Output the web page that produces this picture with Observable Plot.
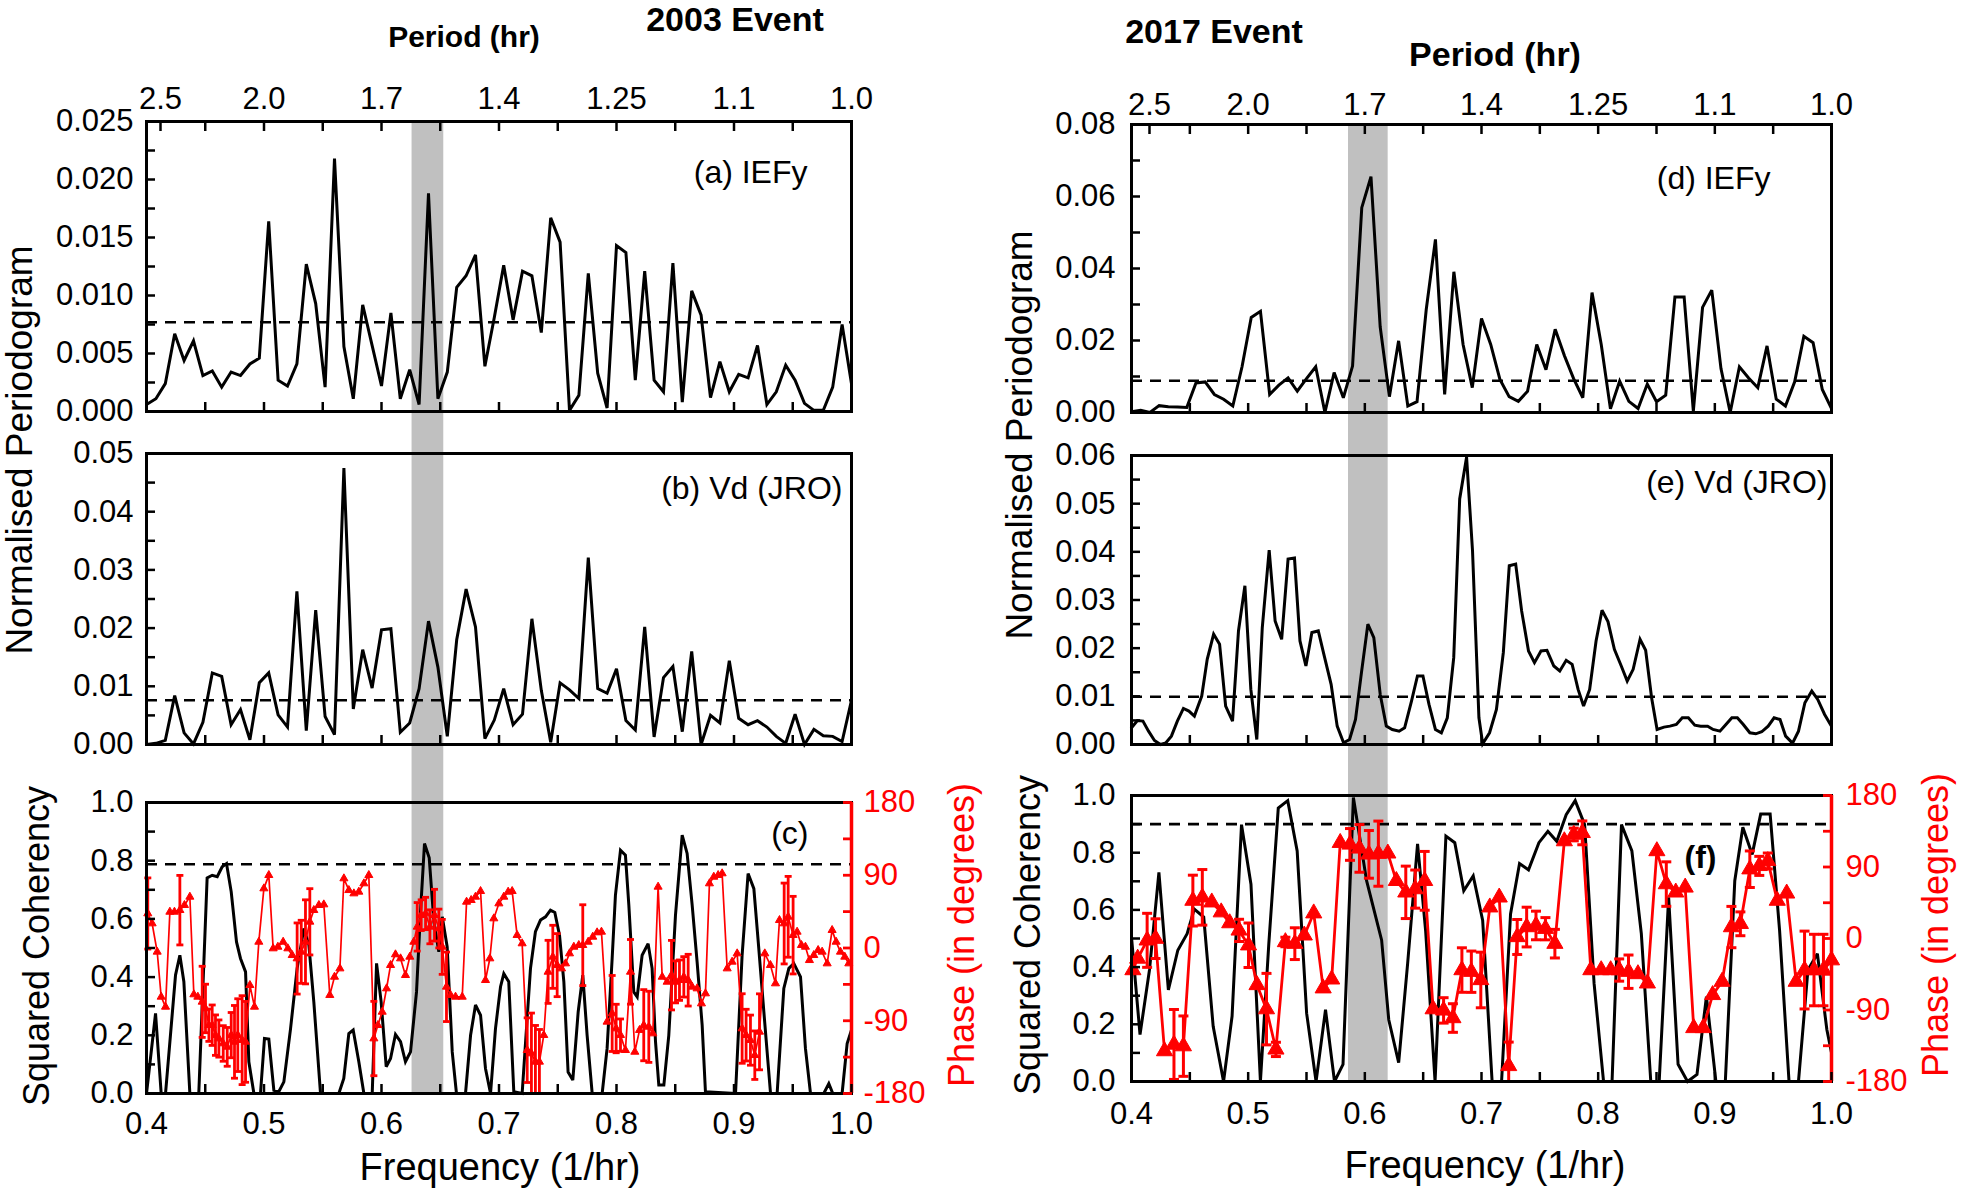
<!DOCTYPE html>
<html><head><meta charset="utf-8">
<script src="https://cdn.jsdelivr.net/npm/d3@7"></script>
<script src="https://cdn.jsdelivr.net/npm/@observablehq/plot@0.6"></script>
<style>
body{margin:0;background:#fff;}
#root{position:relative;width:1961px;height:1195px;overflow:hidden;background:#fff;font-family:"Liberation Sans",Arial,sans-serif;}
#root svg{position:absolute;max-width:none;}
.lbl{position:absolute;white-space:nowrap;line-height:1;transform:translate(-50%,-50%);}
.rot{transform:translate(-50%,-50%) rotate(-90deg);}
</style></head><body><div id="root"></div>
<script>
// ---------------- DATA ----------------
const xTickVals = [0.4,0.45,0.5,0.55,0.6,0.65,0.7,0.75,0.8,0.85,0.9,0.95,1.0];
const xMajor = [0.4,0.5,0.6,0.7,0.8,0.9,1.0];
const freqLabels = ["0.4","0.5","0.6","0.7","0.8","0.9","1.0"];
const periodLabels = ["2.5","2.0","1.7","1.4","1.25","1.1","1.0"];

const yTicksA = [0,0.0025,0.005,0.0075,0.01,0.0125,0.015,0.0175,0.02,0.0225,0.025];
const yMajorA = [0,0.005,0.01,0.015,0.02,0.025];
const yLabelsA = ["0.000","0.005","0.010","0.015","0.020","0.025"];
const yTicksB = [0,0.005,0.01,0.015,0.02,0.025,0.03,0.035,0.04,0.045,0.05];
const yMajorB = [0,0.01,0.02,0.03,0.04,0.05];
const yLabelsB = ["0.00","0.01","0.02","0.03","0.04","0.05"];
const yTicksCoh = [0,0.1,0.2,0.3,0.4,0.5,0.6,0.7,0.8,0.9,1.0];
const yMajorCoh = [0,0.2,0.4,0.6,0.8,1.0];
const yLabelsCoh = ["0.0","0.2","0.4","0.6","0.8","1.0"];
const yTicksD = [0,0.01,0.02,0.03,0.04,0.05,0.06,0.07,0.08];
const yMajorD = [0,0.02,0.04,0.06,0.08];
const yLabelsD = ["0.00","0.02","0.04","0.06","0.08"];
const yTicksE = [0,0.005,0.01,0.015,0.02,0.025,0.03,0.035,0.04,0.045,0.05,0.055,0.06];
const yMajorE = [0,0.01,0.02,0.03,0.04,0.05,0.06];
const yLabelsE = ["0.00","0.01","0.02","0.03","0.04","0.05","0.06"];
const phaseTicks = [-180,-135,-90,-45,0,45,90,135,180];
const phaseMajor = [-180,-90,0,90,180];
const phaseLabels = ["-180","-90","0","90","180"];

// significance levels (dashed lines) and highlighted bands
const sigA = 0.0077, sigB = 0.0076, sigC = 0.788, sigD = 0.0088, sigE = 0.0099, sigF = 0.9;
const band2003 = [0.626, 0.653];
const band2017 = [0.586, 0.620];

// (a) IEFy 2003 : sampled every 0.008 /hr from 0.4
const gridA = {start: 0.4, step: 0.008};
const valsA = [0.0006,0.0011,0.0024,0.0067,0.0044,0.0061,0.0031,0.0035,0.0021,0.0034,
 0.0031,0.0041,0.0046,0.0164,0.0027,0.0022,0.0041,0.0127,0.0093,0.0021,
 0.0218,0.0056,0.0011,0.0092,0.0057,0.0022,0.0085,0.0011,0.0036,0.0006,
 0.0188,0.0011,0.0034,0.0107,0.0117,0.0135,0.0039,0.0081,0.0126,0.0079,
 0.0121,0.0117,0.0068,0.0167,0.0146,0.0001,0.0014,0.0119,0.0033,0.0003,
 0.0143,0.0137,0.0027,0.0121,0.0027,0.0017,0.0128,0.0008,0.0104,0.0083,
 0.0012,0.0043,0.0017,0.0032,0.0029,0.0057,0.0006,0.0017,0.0040,0.0027,
 0.0007,0.0001,0.0001,0.0021,0.0075,0.0024];
// (b) Vd (JRO) 2003
const valsB = [0,0.0002,0.0007,0.0084,0.0020,0.0001,0.0038,0.0123,0.0117,0.0034,
 0.0060,0.0008,0.0106,0.0123,0.0051,0.0030,0.0263,0.0024,0.0231,0.0048,
 0.0017,0.0475,0.0061,0.0163,0.0097,0.0197,0.0199,0.0021,0.0037,0.0096,
 0.0212,0.0133,0.0014,0.0180,0.0267,0.0202,0.0010,0.0042,0.0096,0.0034,
 0.0052,0.0216,0.0093,0.0004,0.0106,0.0094,0.0079,0.0321,0.0096,0.0088,
 0.0130,0.0041,0.0025,0.0202,0.0013,0.0115,0.0134,0.0022,0.0160,0.0000,
 0.0050,0.0037,0.0144,0.0045,0.0034,0.0041,0.0030,0.0014,0.0002,0.0052,
 0.0000,0.0026,0.0015,0.0014,0.0005,0.0076];
// (c) squared coherency 2003 [freq, coherency]
const cohC = [[.400,0],[.4077,.275],[.4125,0],[.4162,0],[.4247,.407],[.4284,.475],[.4318,.384],[.4369,0],[.4445,0],[.4516,.741],[.4559,.750],[.4602,.745],[.4644,.779],[.4681,.790],[.4721,.693],[.4766,.521],[.4800,.464],[.4843,.418],[.4871,.109],[.4914,0],[.4970,0],[.5004,.189],[.5041,.187],[.5084,.011],[.5126,.006],[.5169,.040],[.5226,.223],[.5282,.430],[.5339,.567],[.5382,.510],[.5424,.315],[.5481,0],[.5637,0],[.5679,.052],[.5722,.206],[.5759,.218],[.5807,.109],[.5850,0],[.5921,0],[.5958,.447],[.5997,.315],[.6040,.092],[.6077,.120],[.6119,.203],[.6162,.178],[.6204,.109],[.6247,.143],[.6298,.349],[.6332,.624],[.6366,.859],[.6406,.810],[.6446,.590],[.6488,.487],[.6517,.607],[.6559,.504],[.6602,.143],[.6638,0],[.6715,0],[.6758,.200],[.6800,.304],[.6843,.269],[.6885,.086],[.6928,0],[.6970,.223],[.7013,.367],[.7041,.412],[.7083,.384],[.7126,.006],[.7197,0],[.7268,.430],[.7310,.556],[.7353,.596],[.7396,.607],[.7438,.630],[.7475,.622],[.7515,.544],[.7552,.384],[.7588,.074],[.7628,.046],[.7674,.281],[.7713,.407],[.7750,.200],[.7793,0],[.7878,0],[.7920,.155],[.7963,.464],[.7991,.682],[.8034,.836],[.8076,.819],[.8105,.647],[.8147,.349],[.8176,.332],[.8218,.475],[.8269,.515],[.8303,.430],[.8332,.178],[.8360,.029],[.8403,.029],[.8445,.200],[.8502,.613],[.8559,.888],[.8601,.825],[.8644,.647],[.8686,.452],[.8729,.235],[.8757,.006],[.9013,0],[.9069,.475],[.9120,.756],[.9169,.704],[.9211,.498],[.9254,.281],[.9311,0],[.9367,0],[.9424,.361],[.9467,.430],[.9509,.447],[.9566,.401],[.9608,.155],[.9651,0],[.9764,0],[.9807,.034],[.9841,0],[.9920,0],[.9963,.172],[1.000,.218]];
// (c) phase 2003 [freq, phase deg, error half-width deg]
const phaseC = [[.4011,42.7,44],[.4048,30.3,0],[.4091,-4.7,0],[.4125,-60.4,0],[.4162,-72.8,0],[.4199,44.7,0],[.4238,44.7,0],[.4284,46.8,43],[.4323,53.0,0],[.4369,63.3,0],
[.4403,-57.5,0],[.4437,-60.4,0],[.4474,-66.6,44],[.4502,-74.8,30],[.4531,-95.5,20],[.4559,-95.5,25],[.4587,-107.8,25],[.4616,-112.0,23],[.4653,-118.1,22],[.4687,-122.3,24],
[.4721,-107.8,28],[.4749,-116.1,45],[.4777,-107.8,45],[.4814,-114.0,55],[.4843,-116.1,50],[.4880,-46.0,0],[.4919,-72.8,0],[.4956,7.6,0],[.4999,73.6,0],[.5041,90.1,0],
[.5078,-0.6,0],[.5118,1.4,0],[.5163,7.6,0],[.5203,-0.6,0],[.5240,-8.9,0],[.5282,-13.0,44],[.5317,-4.7,39],[.5353,7.6,52],[.5390,32.4,41],[.5424,46.8,0],
[.5467,53.0,0],[.5509,53.8,0],[.5560,-58.3,0],[.5600,-35.7,0],[.5646,-25.4,0],[.5680,86.0,0],[.5722,71.5,0],[.5765,67.4,0],[.5807,69.5,0],[.5850,79.8,0],
[.5892,90.1,0],[.5935,-112.0,46],[.5969,-95.5,0],[.6006,-79.0,0],[.6043,-50.1,0],[.6077,-21.2,0],[.6119,-8.0,0],[.6162,-13.0,0],[.6204,-33.6,0],[.6241,-10.9,0],
[.6275,7.6,0],[.6304,26.2,30],[.6338,40.6,19],[.6375,42.7,20],[.6412,26.2,21],[.6451,40.6,32],[.6488,24.1,24],[.6517,1.4,34],[.6553,-48.0,43],[.6588,-58.3,0],
[.6630,-60.4,0],[.6687,-60.4,0],[.6724,57.1,0],[.6763,59.2,0],[.6800,63.3,0],[.6843,70.3,0],[.6885,-39.8,0],[.6922,-13.0,0],[.6956,36.5,0],[.6999,55.0,0],
[.7041,63.3,0],[.7078,69.5,0],[.7112,70.3,0],[.7154,15.9,0],[.7197,5.6,0],[.7240,-126.4,40],[.7276,-130.5,50],[.7310,-140.8,45],[.7344,-140.8,40],[.7381,-107.8,0],
[.7418,-29.5,39],[.7458,-10.9,39],[.7495,-21.2,39],[.7532,-25.4,0],[.7566,-19.2,0],[.7600,-6.8,0],[.7637,1.4,0],[.7679,3.5,0],[.7713,3.5,50],[.7759,7.6,0],
[.7798,13.8,0],[.7835,19.2,0],[.7872,20.0,0],[.7920,-91.3,0],[.7963,-81.0,47],[.7997,-99.6,30],[.8034,-107.8,20],[.8076,-126.4,0],[.8119,-29.5,40],[.8156,-128.5,0],
[.8196,-101.6,0],[.8232,-95.5,44],[.8275,-97.5,44],[.8309,-105.8,0],[.8354,75.7,0],[.8389,-35.7,0],[.8431,-41.9,0],[.8468,-33.6,43],[.8502,-41.9,26],[.8536,-39.8,25],
[.8573,-35.7,25],[.8610,-39.8,32],[.8644,-48.0,0],[.8686,-50.1,0],[.8723,-68.7,0],[.8757,-56.3,0],[.8791,79.8,0],[.8828,88.0,0],[.8865,90.1,0],[.8899,92.2,0],
[.8942,-25.4,0],[.8984,-17.1,0],[.9027,-6.8,0],[.9069,-99.6,43],[.9103,-107.8,32],[.9140,-114.0,31],[.9177,-132.6,30],[.9217,-103.7,47],[.9262,-6.8,0],[.9310,-21.2,0],
[.9353,-43.9,0],[.9387,34.4,0],[.9427,30.3,50],[.9461,38.6,50],[.9503,15.9,48],[.9537,20.0,0],[.9574,3.5,0],[.9608,1.4,0],[.9642,-15.1,0],[.9679,-8.9,0],
[.9716,-2.7,0],[.9750,-4.7,0],[.9793,-19.2,0],[.9835,22.1,0],[.9869,7.6,0],[.9906,-4.7,0],[.9943,-10.9,0],[.9977,-19.2,0]];

// (d) IEFy 2017 : 77 samples from 0.4 to 1.0
const gridD = {start: 0.4, step: 0.6/76};
const valsD = [0.0002,0.0006,0,0.0019,0.0016,0.0015,0.0014,0.0082,0.0085,0.0050,
 0.0037,0.0018,0.0127,0.0264,0.0281,0.0050,0.0076,0.0096,0.0059,0.0094,
 0.0127,0.0000,0.0111,0.0041,0.0129,0.0569,0.0655,0.0238,0.0044,0.0199,
 0.0018,0.0030,0.0286,0.0481,0.0050,0.0391,0.0189,0.0069,0.0261,0.0189,
 0.0092,0.0044,0.0031,0.0059,0.0189,0.0119,0.0231,0.0158,0.0094,0.0041,
 0.0333,0.0189,0.0010,0.0087,0.0031,0.0011,0.0079,0.0030,0.0048,0.0321,
 0.0321,0.0004,0.0292,0.0340,0.0122,0.0000,0.0127,0.0096,0.0069,0.0185,
 0.0037,0.0018,0.0085,0.0212,0.0194,0.0064,0.0011];
// (e) Vd (JRO) 2017 [freq, value]
const periodE = [[.4000,.00347],[.4051,.00499],[.4098,.00486],[.4146,.00277],[.4197,.00083],[.4248,0],[.4295,.00035],[.4342,.00173],[.4393,.00486],[.4445,.00749],[.4492,.00694],[.4539,.00590],[.4602,.01006],[.4649,.01769],[.4704,.02289],[.4755,.02081],[.4807,.00798],[.4866,.00486],[.4917,.02358],[.4972,.03295],[.5023,.01144],[.5074,.00104],[.5121,.02428],[.5180,.04037],[.5231,.02566],[.5287,.02185],[.5342,.03849],[.5397,.03870],[.5444,.02150],[.5495,.01630],[.5546,.02324],[.5601,.02358],[.5652,.01838],[.5711,.01248],[.5763,.00381],[.5818,.00035],[.5869,.00104],[.5920,.00520],[.5971,.01491],[.6026,.02497],[.6077,.02220],[.6132,.01040],[.6184,.00381],[.6235,.00312],[.6294,.00277],[.6341,.00347],[.6400,.00902],[.6451,.01422],[.6498,.01422],[.6550,.00832],[.6605,.00312],[.6656,.00243],[.6707,.00555],[.6762,.01803],[.6813,.05098],[.6872,.05965],[.6923,.04023],[.6978,.00555],[.7010,.00014],[.7069,.00243],[.7128,.00728],[.7187,.01907],[.7238,.03711],[.7293,.03745],[.7344,.02774],[.7403,.01942],[.7454,.01699],[.7510,.01942],[.7561,.01956],[.7620,.01630],[.7671,.01526],[.7726,.01748],[.7777,.01665],[.7828,.01144],[.7875,.00798],[.7927,.01144],[.7982,.02150],[.8033,.02788],[.8084,.02552],[.8139,.01977],[.8198,.01630],[.8249,.01318],[.8300,.01561],[.8359,.02185],[.8407,.01956],[.8458,.00971],[.8505,.00312],[.8564,.00361],[.8615,.00381],[.8670,.00416],[.8721,.00555],[.8773,.00555],[.8828,.00402],[.8879,.00381],[.8938,.00381],[.8985,.00312],[.9044,.00277],[.9095,.00416],[.9146,.00555],[.9193,.00555],[.9244,.00416],[.9300,.00243],[.9351,.00222],[.9402,.00264],[.9457,.00381],[.9508,.00555],[.9559,.00520],[.9607,.00173],[.9666,.00028],[.9717,.00277],[.9772,.00867],[.9831,.01110],[.9882,.00936],[.9941,.00624],[1.000,.00381]];
// (f) squared coherency 2017 [freq, coherency]
const cohF = [[.400,.505],[.4073,.164],[.4154,.390],[.4235,.731],[.4316,.320],[.4397,.459],[.4477,.517],[.4538,.603],[.4619,.575],[.4700,.193],[.4789,0],[.4862,.228],[.4943,.898],[.5024,.690],[.5105,0],[.5177,.482],[.5258,.956],[.5339,.982],[.5420,.806],[.5501,.239],[.5582,0],[.5663,.251],[.5740,0],[.5813,.060],[.5902,.993],[.6015,.702],[.6144,.494],[.6205,.216],[.6290,.066],[.6367,.413],[.6452,.831],[.6521,.528],[.6602,0],[.6695,.858],[.6771,.835],[.6848,.667],[.6929,.719],[.7010,.563],[.7091,0],[.7172,0],[.7249,.586],[.7326,.762],[.7403,.740],[.7492,.835],[.7569,.875],[.7645,.840],[.7726,.933],[.7803,.982],[.7884,.898],[.7965,.343],[.8046,0],[.8119,0],[.8200,.898],[.8289,.806],[.8370,.517],[.8451,0],[.8523,0],[.8604,.644],[.8685,.060],[.8766,0],[.8847,.025],[.8928,.297],[.9009,0],[.9090,0],[.9171,.702],[.9240,.889],[.9320,.794],[.9393,.935],[.9474,.935],[.9555,.528],[.9636,0],[.9717,0],[.9798,.390],[.9879,.447],[.9960,.182],[1.000,.101]];
// (f) phase 2017 [freq, phase deg, error half-width deg]
const phaseF = [[.4012,-39.7,0],[.4053,-25.2,0],[.4134,-2.3,34],[.4206,-0.2,25],[.4283,-141.7,0],[.4364,-133.4,44],[.4445,-135.5,38],[.4526,47.7,32],[.4607,51.8,35],[.4688,45.6,0],
[.4769,33.1,0],[.4842,19.4,0],[.4922,10.2,14],[.5003,-8.5,28],[.5076,-58.5,0],[.5157,-88.9,45],[.5238,-139.6,9],[.5319,-4.4,6],[.5400,-6.5,20],[.5481,4.0,0],
[.5562,31.8,0],[.5643,-62.6,0],[.5716,-51.4,0],[.5789,120.5,0],[.5873,118.4,20],[.5954,113.4,30],[.6035,105.9,30],[.6116,106.8,41],[.6197,107.2,0],[.6270,72.6,0],
[.6351,58.1,33],[.6432,62.2,24],[.6513,72.6,37],[.6585,-88.9,0],[.6675,-90.5,16],[.6755,-100.1,18],[.6832,-39.7,28],[.6913,-41.8,26],[.6994,-52.2,35],[.7071,39.3,0],
[.7152,51.8,0],[.7233,-160.4,30],[.7306,1.9,22],[.7387,14.4,25],[.7467,16.4,18],[.7548,12.3,14],[.7629,-6.5,18],[.7710,122.6,0],[.7791,130.9,8],[.7864,133.0,15],
[.7937,-39.7,0],[.8026,-39.7,0],[.8107,-39.7,0],[.8180,-39.7,14],[.8260,-41.8,21],[.8341,-44.7,0],[.8422,-56.4,0],[.8503,110.1,0],[.8584,68.5,28],[.8665,58.1,0],
[.8746,64.3,0],[.8819,-112.6,0],[.8900,-112.6,0],[.8981,-71.0,0],[.9062,-54.3,0],[.9142,14.4,26],[.9219,18.5,15],[.9300,87.2,23],[.9381,91.4,12],[.9454,97.6,10],
[.9535,47.7,0],[.9616,56.8,0],[.9697,-54.3,0],[.9769,-39.7,49],[.9850,-39.7,45],[.9931,-39.7,45],[1.000,-27.3,0]];

// ---------------- RENDER ----------------
const RED = "#ff0000";
const FONT = "Liberation Sans, Arial, sans-serif";
const root = document.getElementById("root");
const gridSeries = (g, vals) => vals.map((v, i) => ({f: g.start + i * g.step, v}));
const lookup = (vals, labels) => d => { const i = vals.findIndex(v => Math.abs(v - d) < 1e-9); return i < 0 ? "" : labels[i]; };
const p2y = d3.scaleLinear([-180, 180], [0, 1]);
const capSymbol = {draw(ctx, size) { const w = Math.sqrt(size / Math.PI); ctx.moveTo(-w, 0); ctx.lineTo(w, 0); }};

function makePanel(cfg) {
  const marks = [];
  marks.push(Plot.rect([0], {x1: cfg.band[0], x2: cfg.band[1], y1: cfg.yDomain[0], y2: cfg.yDomain[1],
    fill: "#c0c0c0", insetTop: -(cfg.extTop || 0), insetBottom: -(cfg.extBottom || 0)}));
  marks.push(Plot.ruleY([cfg.sig], {stroke: "black", strokeWidth: 2.6, strokeDasharray: "11,8"}));
  marks.push(...cfg.marks);
  marks.push(Plot.frame({stroke: "black", strokeWidth: 3}));
  if (cfg.phase) marks.push(Plot.ruleX([1.0], {stroke: RED, strokeWidth: 3.5}));
  marks.push(Plot.axisY({anchor: "left", ticks: cfg.yTicks, tickFormat: lookup(cfg.yMajor, cfg.yLabels),
    tickSize: -9, tickPadding: 9 + cfg.yGap, strokeWidth: 2.5, fontSize: 31, label: null}));
  marks.push(Plot.axisX({anchor: "bottom", ticks: xTickVals,
    tickFormat: cfg.bottomLabels ? lookup(xMajor, freqLabels) : () => "",
    tickSize: -9, tickPadding: 9 + (cfg.xGap || 0), strokeWidth: 2.5, fontSize: 31, label: null}));
  if (cfg.topLabels) {
    marks.push(Plot.axisX({anchor: "top", ticks: xTickVals.slice(1), tickFormat: lookup(xMajor, periodLabels),
      tickSize: -9, tickPadding: 9 + cfg.topGap, strokeWidth: 2.5, fontSize: 31, label: null}));
    marks.push(Plot.axisX({anchor: "top", ticks: [0.4], tickFormat: lookup(xMajor, periodLabels),
      tickSize: -9, tickPadding: 9 + cfg.topGap, strokeWidth: 2.5, fontSize: 31, label: null, dx: cfg.firstTopDx}));
  }
  if (cfg.phase) {
    marks.push(Plot.axisY({anchor: "right", ticks: phaseTicks.map(p => p2y(p)),
      tickFormat: y => lookup(phaseMajor, phaseLabels)(Math.round(p2y.invert(y))),
      tickSize: -9, tickPadding: 9 + cfg.phaseGap, strokeWidth: 2.8, fontSize: 31, stroke: RED, fill: RED, label: null}));
  }
  marks.push(Plot.text([cfg.label], {text: d => d, frameAnchor: "top-right", textAnchor: "end", lineAnchor: "middle",
    dx: cfg.labelDx, dy: cfg.labelDy, fontSize: 32, fontWeight: cfg.labelBold ? "bold" : "normal", fill: "black"}));

  const svg = Plot.plot({
    width: cfg.width, height: cfg.height,
    marginLeft: cfg.ml, marginRight: cfg.mr, marginTop: cfg.mt, marginBottom: cfg.mb,
    x: {domain: [0.4, 1.0]},
    y: {domain: cfg.yDomain},
    style: {background: "transparent", fontFamily: FONT, fontSize: "31px", color: "black", overflow: "visible"},
    marks
  });
  svg.style.left = cfg.left + "px";
  svg.style.top = cfg.top + "px";
  root.appendChild(svg);
}

function lineMark(data, x, y, w, color) {
  return Plot.line(data, {x, y, stroke: color, strokeWidth: w, strokeLinejoin: "miter", strokeMiterlimit: 3});
}
function phaseMarks(data, opt) {
  const withErr = data.filter(d => d[2] > 0);
  return [
    lineMark(data, d => d[0], d => p2y(d[1]), opt.lineW, RED),
    Plot.ruleX(withErr, {x: d => d[0], y1: d => p2y(Math.max(-180, d[1] - d[2])), y2: d => p2y(Math.min(180, d[1] + d[2])), stroke: RED, strokeWidth: opt.barW}),
    Plot.dot(withErr, {x: d => d[0], y: d => p2y(Math.max(-180, d[1] - d[2])), symbol: capSymbol, r: opt.capR, stroke: RED, strokeWidth: opt.barW}),
    Plot.dot(withErr, {x: d => d[0], y: d => p2y(Math.min(180, d[1] + d[2])), symbol: capSymbol, r: opt.capR, stroke: RED, strokeWidth: opt.barW}),
    Plot.dot(data, {x: d => d[0], y: d => p2y(d[1]), symbol: "triangle", r: opt.triR, fill: RED, stroke: RED, strokeWidth: 1})
  ];
}

const seriesA = gridSeries(gridA, valsA);
const seriesB = gridSeries(gridA, valsB);
const seriesD = gridSeries(gridD, valsD);

const L = {left: 0, width: 980, ml: 146, mr: 129, yGap: 13, band: band2003};
const R = {left: 980, width: 981, ml: 151, mr: 130, yGap: 16, band: band2017};

makePanel({...L, top: 0, height: 432, mt: 121, mb: 21, extBottom: 21,
  yDomain: [0, 0.025], yTicks: yTicksA, yMajor: yMajorA, yLabels: yLabelsA, sig: sigA,
  topLabels: true, topGap: 13, firstTopDx: 14,
  marks: [lineMark(seriesA, "f", "v", 3, "black")],
  label: "(a) IEFy", labelDx: -44, labelDy: 51});
makePanel({...L, top: 432, height: 341, mt: 21, mb: 29, extTop: 21, extBottom: 29,
  yDomain: [0, 0.05], yTicks: yTicksB, yMajor: yMajorB, yLabels: yLabelsB, sig: sigB,
  marks: [lineMark(seriesB, "f", "v", 3, "black")],
  label: "(b) Vd (JRO)", labelDx: -9, labelDy: 35});
makePanel({...L, top: 773, height: 422, mt: 29, mb: 102, extTop: 29,
  yDomain: [0, 1], yTicks: yTicksCoh, yMajor: yMajorCoh, yLabels: yLabelsCoh, sig: sigC,
  bottomLabels: true, xGap: 18, phase: true, phaseGap: 12,
  marks: [lineMark(cohC, d => d[0], d => d[1], 3, "black"),
          ...phaseMarks(phaseC, {lineW: 1.7, barW: 2.8, capR: 3.5, triR: 3})],
  label: "(c)", labelDx: -43, labelDy: 31});

makePanel({...R, top: 0, height: 433, mt: 124, mb: 21, extBottom: 21,
  yDomain: [0, 0.08], yTicks: yTicksD, yMajor: yMajorD, yLabels: yLabelsD, sig: sigD,
  topLabels: true, topGap: 10, firstTopDx: 18,
  marks: [lineMark(seriesD, "f", "v", 3, "black")],
  label: "(d) IEFy", labelDx: -61, labelDy: 54});
makePanel({...R, top: 433, height: 336, mt: 22, mb: 25, extTop: 22, extBottom: 25,
  yDomain: [0, 0.06], yTicks: yTicksE, yMajor: yMajorE, yLabels: yLabelsE, sig: sigE,
  marks: [lineMark(periodE, d => d[0], d => d[1], 3, "black")],
  label: "(e) Vd (JRO)", labelDx: -4, labelDy: 27});
makePanel({...R, top: 769, height: 426, mt: 26, mb: 114, extTop: 26,
  yDomain: [0, 1], yTicks: yTicksCoh, yMajor: yMajorCoh, yLabels: yLabelsCoh, sig: sigF,
  bottomLabels: true, xGap: 20, phase: true, phaseGap: 14,
  marks: [lineMark(cohF, d => d[0], d => d[1], 3, "black"),
          ...phaseMarks(phaseF, {lineW: 2.8, barW: 3, capR: 5, triR: 6})],
  label: "(f)", labelBold: true, labelDx: -115, labelDy: 62});

// ---------------- TEXT ----------------
function addText(txt, x, y, size, opts = {}) {
  const d = document.createElement("div");
  d.className = "lbl" + (opts.rot ? " rot" : "");
  d.textContent = txt;
  d.style.left = x + "px"; d.style.top = y + "px";
  d.style.fontSize = size + "px";
  if (opts.bold) d.style.fontWeight = "bold";
  d.style.color = opts.color || "black";
  root.appendChild(d);
}
addText("2003 Event", 735, 19, 34, {bold: true});
addText("Period (hr)", 464, 37, 30, {bold: true});
addText("2017 Event", 1214, 31, 34, {bold: true});
addText("Period (hr)", 1495, 54, 34, {bold: true});
addText("Normalised Periodogram", 19, 450, 37, {rot: true});
addText("Normalised Periodogram", 1019, 435, 37, {rot: true});
addText("Squared Coherency", 37, 946, 36, {rot: true});
addText("Squared Coherency", 1028, 935, 36, {rot: true});
addText("Phase (in degrees)", 962, 935, 36, {rot: true, color: RED});
addText("Phase (in degrees)", 1936, 925, 36, {rot: true, color: RED});
addText("Frequency (1/hr)", 500, 1167, 38);
addText("Frequency (1/hr)", 1485, 1165, 38);
</script></body></html>
